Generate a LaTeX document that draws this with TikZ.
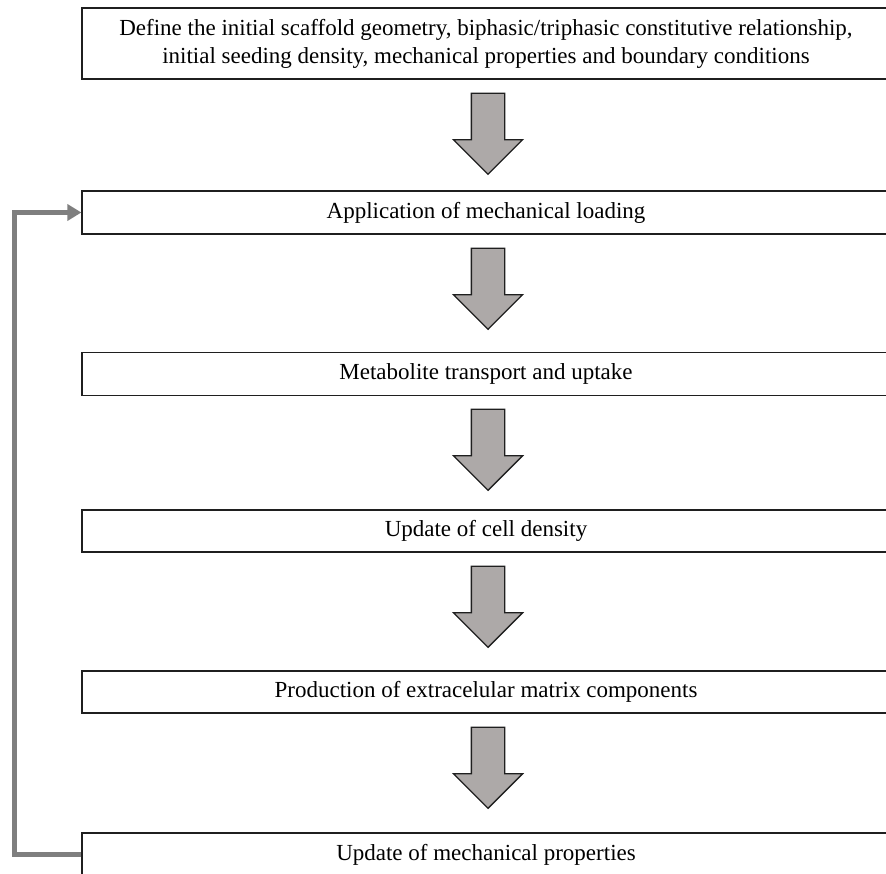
\documentclass[tikz,border=0pt]{standalone}
\usepackage{fontspec}
\setmainfont{Liberation Serif}
\usepackage{xcolor}
\definecolor{flowGray}{HTML}{7F7F7F}
\definecolor{flowArrow}{HTML}{ADA9A8}
\definecolor{flowEdge}{HTML}{1F1F1F}
\usepackage{tikz}
\usetikzlibrary{
  shapes.arrows,
  arrows.meta,
  positioning
}
\tikzset{
  stepbox/.style={
    rectangle,draw=flowEdge,fill=white,
    line width=1.2pt,inner sep=0pt,
    minimum width=808pt,minimum height=#1,
    align=center,font=\fontsize{23}{28}\selectfont
  },
  downarr/.style={
    single arrow,shape border rotate=270,
    draw=flowEdge,fill=flowArrow,line width=1.3pt,
    inner sep=16pt,minimum width=68pt,minimum height=81pt,
    single arrow head extend=18pt,single arrow tip angle=90
  },
  loopline/.style={-{Triangle[length=14pt,width=16pt]},line width=4.5pt,color=flowGray}
}

\begin{document}
\begin{tikzpicture}[x=1pt,y=-1pt]
\useasboundingbox (0,0) rectangle (886,874);
\clip (0,0) rectangle (886,874);

%% -- steps ------------------------------------------------
\node[stepbox=71pt] (init) at (486,43.5) {
  Define the initial scaffold geometry, biphasic/triphasic constitutive relationship,\\
  initial seeding density, mechanical properties and boundary conditions};
\node[stepbox=43pt] (load) at (486,212.5) {Application of mechanical loading};
\node[stepbox=43pt] (transport) at (486,374) {Metabolite transport and uptake};
\node[stepbox=42pt] (celldens) at (486,531) {Update of cell density};
\node[stepbox=42pt] (ecm) at (486,692) {Production of extracelular matrix components};
\node[stepbox=43pt] (upmech) at (486,854.5) {Update of mechanical properties};

%% -- block arrows -----------------------------------------
\node[downarr] (a1) at (488,125.5) {};
\node[downarr] (a2) at (488,280.5) {};
\node[downarr] (a3) at (488,441.5) {};
\node[downarr] (a4) at (488,598.5) {};
\node[downarr] (a5) at (488,759.5) {};

%% -- feedback loop ----------------------------------------
\draw[loopline] (upmech.west) -- ++(-67,0) |- (load.west);

\end{tikzpicture}
\end{document}
